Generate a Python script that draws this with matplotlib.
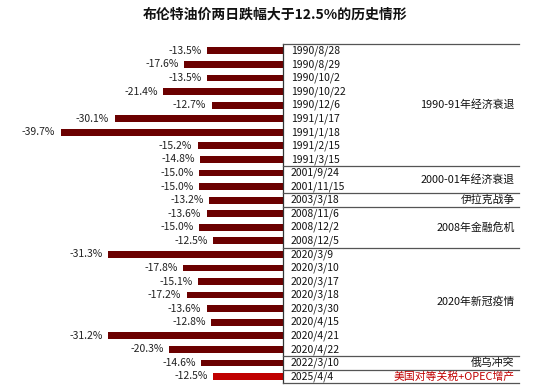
import matplotlib
matplotlib.use('Agg')
import matplotlib.pyplot as plt

plt.rcParams['font.family'] = ['Noto Sans CJK SC', 'DejaVu Sans']

# data
dates = ['1990/8/28', '1990/8/29', '1990/10/2', '1990/10/22', '1990/12/6',
         '1991/1/17', '1991/1/18', '1991/2/15', '1991/3/15',
         '2001/9/24', '2001/11/15', '2003/3/18',
         '2008/11/6', '2008/12/2', '2008/12/5',
         '2020/3/9', '2020/3/10', '2020/3/17', '2020/3/18', '2020/3/30',
         '2020/4/15', '2020/4/21', '2020/4/22',
         '2022/3/10', '2025/4/4']
drops = [-13.5, -17.6, -13.5, -21.4, -12.7, -30.1, -39.7, -15.2, -14.8,
         -15.0, -15.0, -13.2, -13.6, -15.0, -12.5,
         -31.3, -17.8, -15.1, -17.2, -13.6, -12.8, -31.2, -20.3,
         -14.6, -12.5]
groups = ['1990-91年经济衰退', '2000-01年经济衰退', '伊拉克战争', '2008年金融危机',
          '2020年新冠疫情', '俄乌冲突', '美国对等关税+OPEC增产']
group_sizes = [9, 2, 1, 3, 8, 1, 1]

dark = '#6b0000'
hi = '#c00000'
n = len(dates)

fig = plt.figure(figsize=(5.5, 3.89), dpi=100)
ax = fig.add_axes([0, 0.0147, 1, 0.872])
ax.set_xlim(-50.6, 47.8)
ax.set_ylim(n - 0.5, -0.5)
ax.axis('off')

ys = list(range(n))
colors = [dark] * (n - 1) + [hi]
ax.barh(ys, drops, height=0.5, color=colors)

for y, v in zip(ys, drops):
    ax.annotate(f'{v:.1f}%', (v, y), xytext=(-4, 0), textcoords='offset points',
                ha='right', va='center', fontsize=7.5, color='#222222')
    ax.text(1.4, y, dates[y], ha='left', va='center', fontsize=7.5, color='#111111')

right = 42.2
# table frame
ax.plot([0, 0], [-0.5, n - 0.5], color='#333333', lw=0.9, clip_on=False)
ax.plot([0, right], [-0.5, -0.5], color='#555555', lw=0.9, clip_on=False)
ax.plot([0, right], [n - 0.5, n - 0.5], color='#555555', lw=0.9, clip_on=False)

start = 0
for i, (g, size) in enumerate(zip(groups, group_sizes)):
    end = start + size
    mid = (start + end - 1) / 2
    c = hi if i == len(groups) - 1 else '#111111'
    ax.text(41.5, mid, g, ha='right', va='center', fontsize=7.8, color=c)
    if end < n:
        ax.plot([0, right], [end - 0.5, end - 0.5], color='#555555', lw=0.9)
    start = end

fig.text(0.5, 0.963, '布伦特油价两日跌幅大于12.5%的历史情形', ha='center', va='center',
         fontsize=10, fontweight='bold', color='#111111')

fig.savefig('out.png', dpi=100)
